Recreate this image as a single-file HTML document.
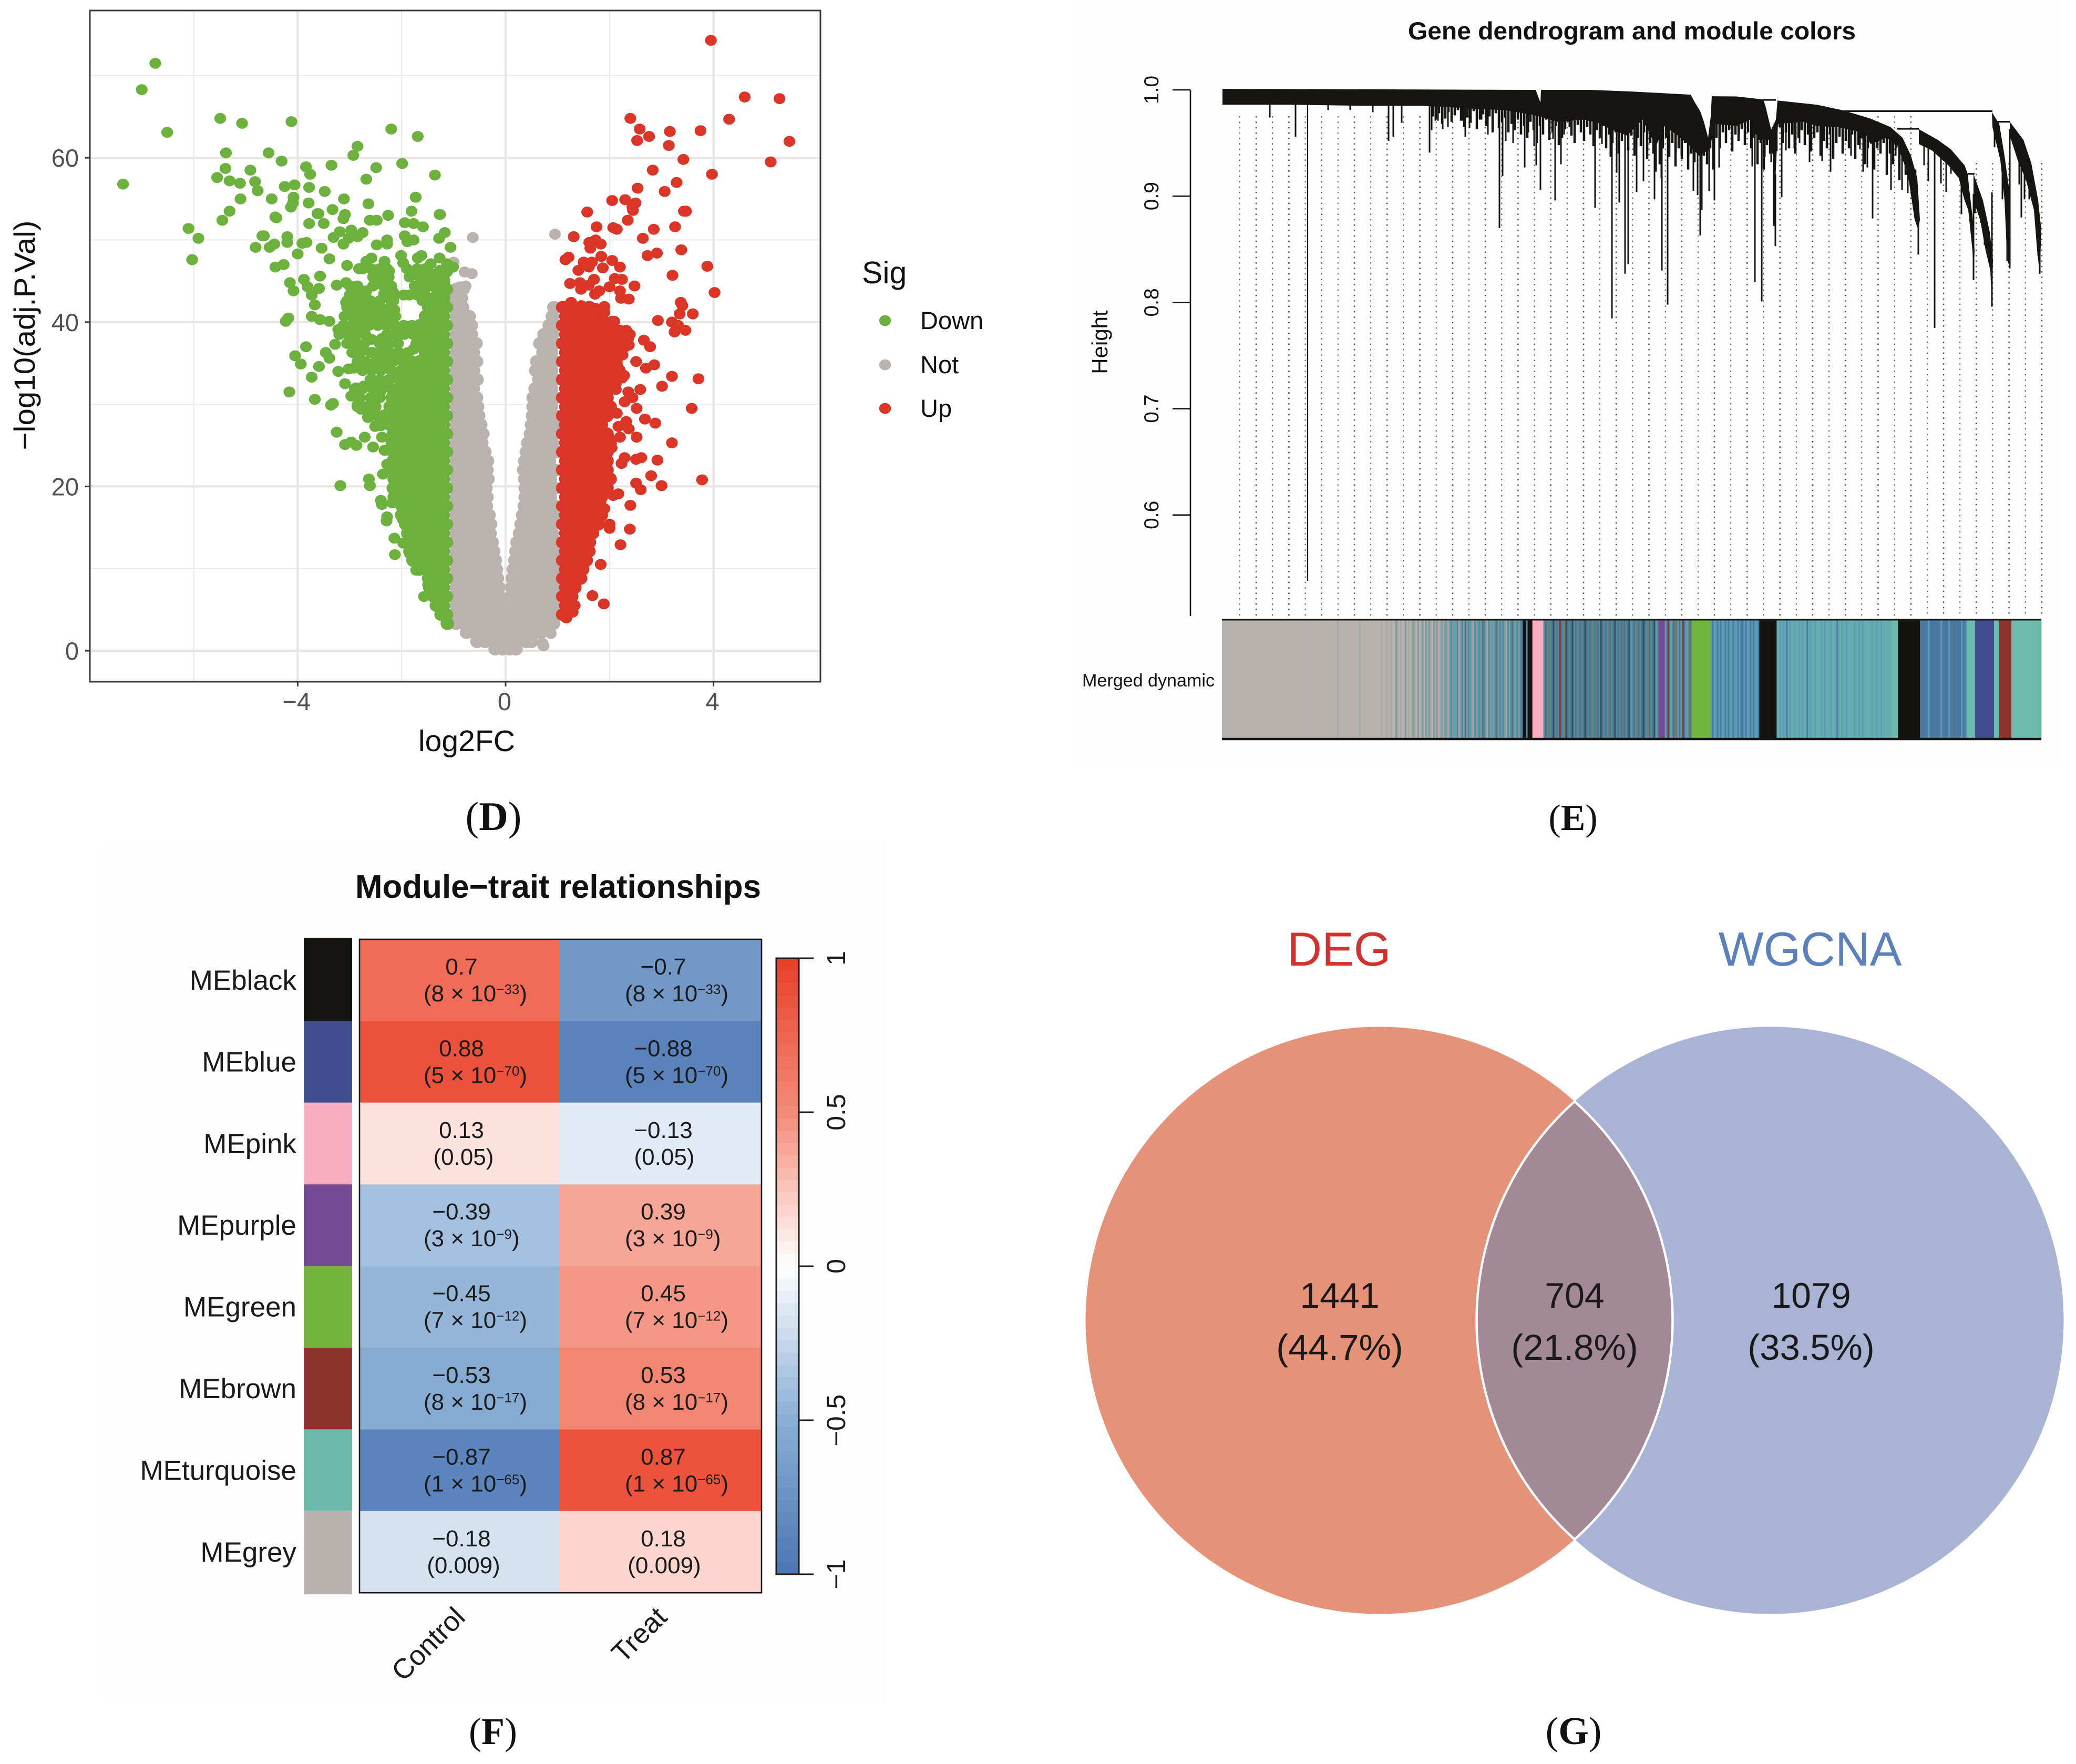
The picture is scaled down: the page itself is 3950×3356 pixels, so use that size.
<!DOCTYPE html>
<html lang="en">
<head>
<meta charset="utf-8">
<title>Volcano plot, gene dendrogram, module-trait heatmap and Venn diagram</title>
<style>
html,body{margin:0;padding:0;background:#fff;}
svg{display:block;}
text{font-family:"Liberation Sans",sans-serif;}
.panel-letter{font-family:"Liberation Serif",serif;font-size:72px;fill:#111;}
</style>
</head>
<body>
<svg id="figure" xmlns="http://www.w3.org/2000/svg" width="3950" height="3356" viewBox="0 0 3950 3356">
  <rect x="0" y="0" width="3950" height="3356" fill="#ffffff"/>
  <rect x="2040" y="0" width="1880" height="1450" fill="#fdfdfd"/>
  <rect x="195" y="1600" width="1490" height="1640" fill="#fdfdfd"/>

  <g id="volcano"></g>
  <text x="888" y="1429" text-anchor="middle" font-size="57" fill="#111" textLength="184" lengthAdjust="spacingAndGlyphs">log2FC</text>
  <text transform="translate(66 638) rotate(-90)" text-anchor="middle" font-size="56" fill="#111" textLength="437" lengthAdjust="spacingAndGlyphs">−log10(adj.P.Val)</text>
  <text x="1640" y="539" font-size="59" fill="#111">Sig</text>
  <text class="panel-letter" x="939" y="1579" text-anchor="middle" style="font-size:77px">(<tspan font-weight="bold">D</tspan>)</text>

  <g id="dendrogram"></g>
  <text x="3105" y="75" text-anchor="middle" font-size="47" font-weight="bold" fill="#111" textLength="852" lengthAdjust="spacingAndGlyphs">Gene dendrogram and module colors</text>
  <text transform="translate(2107 651) rotate(-90)" text-anchor="middle" font-size="42" fill="#111">Height</text>
  <text x="2311" y="1306" text-anchor="end" font-size="34" fill="#111" textLength="252" lengthAdjust="spacingAndGlyphs">Merged dynamic</text>
  <text class="panel-letter" x="2993" y="1579" text-anchor="middle" style="font-size:70px">(<tspan font-weight="bold">E</tspan>)</text>

  <g id="heatmap"></g>
  <text x="1062" y="1708" text-anchor="middle" font-size="62" font-weight="bold" fill="#111" textLength="772" lengthAdjust="spacingAndGlyphs">Module−trait relationships</text>
  <text class="panel-letter" x="938" y="3318" text-anchor="middle">(<tspan font-weight="bold">F</tspan>)</text>

  <g id="venn"></g>
  <text class="panel-letter" x="2994" y="3318" text-anchor="middle" style="font-size:74px">(<tspan font-weight="bold">G</tspan>)</text>
</svg>

<script>
/* ---------- Panel D data: volcano plot ---------- */
const volcanoXTicks = [-4, 0, 4];
const volcanoYTicks = [0, 20, 40, 60];
const volcanoXMinor = [-6, -2, 2];
const volcanoYMinor = [10, 30, 50, 70];
const legendLabels = ['Down', 'Not', 'Up'];

/* scattered points read individually: [log2FC, -log10(adj.P.Val)] */
const downScatter = [[-6.74,71.5],[-7,68.3],[-6.51,63.1],[-7.36,56.8],[-5.49,64.8],[-5.07,64.2],[-4.12,64.4],[-2.2,63.5],[-1.69,62.6],[-2.85,61.4],[-2.93,60.3],[-5.38,60.6],[-4.56,60.6],[-4.31,59.6],[-5.39,58.7],[-4.91,58.5],[-3.84,58.9],[-3.35,59.1],[-1.99,59.3],[-2.49,58.8],[-3.76,58],[-5.55,57.6],[-5.31,57.2],[-5.11,56.9],[-4.82,57.1],[-4.77,56],[-2.68,57.4],[-1.36,57.9],[-4.25,56.5],[-4.06,56.7],[-3.78,56.4],[-3.48,55.9],[-5.1,55],[-4.5,55],[-4.08,55.2],[-4.09,54.5],[-4.13,54],[-3.79,54.5],[-3.11,55],[-1.73,55.2],[-2.64,54.4],[-5.31,53.5],[-3.33,53.7],[-1.81,53.5],[-3.6,53.2],[-3.09,53.1],[-4.41,52.7],[-5.45,52.4],[-1.26,53.1],[-6.1,51.4],[-5.91,50.2],[-6.03,47.6],[-4.68,50.5],[-4.81,49.1],
[-4.43,52.8],[-3.62,53.2],[-3.12,52.6],[-3.78,52],[-3.5,52],[-2.61,52.4],[-2.48,52.4],[-2.26,53],[-1.94,52.1],[-1.77,52],[-1.59,51.6],[-1.27,53.1],[-1.17,50.9],[-1.28,50.2],[-1.06,49.1],[-4.2,50.4],[-4.2,49.7],[-4.65,50.5],[-4.45,49.5],[-4.54,49.1],[-3.91,49.6],[-3.83,49.7],[-4,48.3],[-3.54,49],[-3.39,47.7],[-3.31,50.3],[-3.19,51],[-2.97,51.2],[-3.02,50.2],[-2.85,50.4],[-2.75,50.9],[-3.12,49.5],[-2.48,49.4],[-2.28,50],[-2.28,49.5],[-1.94,50.5],[-1.89,49.8],[-1.77,50],[-2.01,48.1],[-1.97,47.2],[-1.69,47.8],[-1.62,48.1],[-4.43,46.7],[-4.27,47],[-3.05,46.9],[-2.82,46.5],[-2.68,47.4],[-2.58,47.8],[-2.55,46.4],[-2.33,47.4],[-2.24,46.2],[-1.82,46.2],[-1.57,46.4],[-1.44,47.1],[-1.27,47.8],[-1.13,47.1],[-1.01,46.7],[-1.4,45.8],[-1.18,44.8],
[-3.57,45.6],[-3.88,45.2],[-4.15,44.8],[-4.08,43.8],[-3.81,44.3],[-3.59,44.1],[-3.73,43.3],[-3.67,42.1],[-3.25,44.5],[-3.07,44.8],[-2.51,45],[-2.34,44.6],[-2.92,44.3],[-2.68,43.8],[-2.16,43.6],[-2.34,43.4],[-1.96,43.3],[-1.7,44.3],[-2.16,42.6],[-2.14,41.5],[-2.16,40.7],[-3.07,42.4],[-2.95,42.9],[-2.78,42.2],[-2.56,42.4],[-2.98,40.8],[-2.75,41.4],[-2.48,41.4],[-2.31,41.2],[-4.18,40.5],[-4.23,40.1],[-3.73,40.7],[-3.57,40.3],[-3.39,40.1],[-3.22,39.1],[-3.07,38.9],[-2.92,39.8],[-2.88,38.4],[-2.68,39.8],[-2.48,39.8],[-2.28,40.1],[-2.58,37.9],[-2.38,38],[-2.11,38.8],[-1.87,39.5],[-1.81,38.8],[-2.07,37.4],[-2.97,37.6],[-2.78,36.7],[-3.84,37],[-3.28,37.3],[-3.46,36.3],[-3.39,35.6],[-4.05,35.9],[-3.94,34.9],[-3.59,34.6],[-3.73,33.3],[-3.22,34],[-3.02,34.3],[-2.92,34.4],[-2.71,34.9],[-2.65,34.3],[-2.48,34.6],[-2.31,34.6],[-2.55,36.3],[-2.31,36.3],[-2.01,36],[-1.77,36.7],[-1.94,34.3],[-2.08,33.2],[-2.24,32.9],[-2.51,32.9],[-2.51,31.8],[-3.09,32.5],[-4.16,31.5],[-3.67,30.6],[-3.32,30.1],[-3.36,29.9],[-2.97,31],[-2.88,32],[-2.73,32.2],[-2.41,31.5],[-2.18,31],[-2.85,29.9],[-2.78,29.4],[-2.53,29.6],[-2.65,28.4],[-2.51,27.3],[-2.34,28.7],[-3.25,26.6],[-3.09,25.1],[-2.97,25.4],[-2.87,25],[-2.71,26],[-2.55,24.8],[-2.38,26],[-2.33,24.4],[-2.28,22.7],[-2.36,21.5],[-2.11,23.5],[-2.63,20.9],[-2.61,20.1],[-3.18,20.1],[-2.4,18.3],[-2.38,17.8],[-2.18,18],[-2.29,15.8],[-2.28,16.3],[-1.97,15.9],[-1.8,14.5],[-2.14,13.7],[-1.97,13.1],[-2.13,11.7],[-1.84,11.8],[-1.72,9.8],[-1.57,6.6],[-1.49,8]];

const notScatter = [[-0.63,50.3],[0.95,50.7],[-0.79,46.1],[-1,47.3],[-0.85,43.9],[-0.8,40.5],[-0.65,45.9],[-0.77,44.4],[-0.88,44.3],[0.93,41.5],[0.73,0.6],[0.87,2.1],[0.71,0.9]];

const upScatter = [[3.95,74.3],[4.6,67.4],[5.27,67.2],[4.3,64.7],[2.4,64.8],[2.58,63.5],[2.76,62.6],[2.53,62.1],[3.16,63.2],[3.75,63.3],[3.14,61.5],[5.46,62],[3.42,59.8],[5.1,59.5],[2.83,58.5],[3.97,58],[3.29,57],[2.54,56.3],[3.06,55.9],[2.05,54.8],[2.3,54.9],[2.5,54.5],[2.44,54],[1.57,53.4],[3.47,53.5],[2.45,53.6],[3.43,53.5],
[2.35,52.4],[1.75,51.6],[2.07,51.5],[2.14,51.3],[2.85,51.3],[3.26,51.6],[1.31,50.4],[2.64,50.2],[1.73,50],[1.61,49.7],[1.83,49.5],[1.63,49],[3.38,48.8],[2.91,48.4],[2.73,48.1],[1.21,47.9],[1.15,47.6],[1.84,48],[2.05,47.5],[1.5,47.3],[1.66,47.3],[1.6,46.7],[1.4,46.3],[1.87,46.6],[2.2,46.7],[3.88,46.8],[3.21,45.7],[1.24,44.7],[1.43,44.8],[1.45,44],[1.7,45.2],[1.6,44.5],[2.1,45.3],[2.24,45.2],[2,44.3],[1.8,43.8],[1.72,43.4],[2.48,44.4],[2.2,43.8],[2.22,42.9],[2.37,42.8],[4.02,43.6],[3.37,42.4],[3.4,42],[3.35,41],[3.6,41],[2.93,40.2],[3.2,40],[3.32,39.6],[3.25,38.8],[3.46,39],[1.9,41.9],[1.46,42],[1.26,42.4],[1.72,41.7],[2.09,40.1],[2.39,38.5],[2.37,37.2],[2.66,37.8],[2.78,37],[2.2,36],[2.51,35.2],[2.7,34.4],[2.86,34.8],[2.14,34.8],[2.24,33.2],[3.2,33.4],[3.01,32.2],[3.71,33.1],[2.12,31.8],[2.59,31.8],[2.36,31.5],[2.44,30.8],[2.29,30.3],[2.52,29.5],[3.58,29.5],[2.14,28.9],[2.68,28.2],[2.88,27.7],[2.32,27.9],[2.17,27.3],[2.37,27],[2.2,26],[2.52,26],[3.2,25.3],[1.98,26],[2.04,24.7],[2.29,23.5],[2.23,22.8],[2.51,23.3],[2.61,23.5],[2.92,23.2],[2.8,21.3],[3,20.1],[3.78,20.8],[2.51,20.4],[2.6,19.6],[1.98,20.6],[2.17,19.1],[2.07,18.9],[2.4,17.7],[1.82,18],[1.9,17.3],[2.39,14.8],[2,15.4],[2,14.9],[2.21,12.9],[1.83,10.5],[1.67,6.7],[1.89,5.7],[1.33,5.5],[1.29,4.7],[1.17,4]];

/* partly overlapping points, row by row: [-log10P, log2FC, log2FC, ...] */
const downLace = [
[46.5,-2.75,-2.6,-2.42,-2.28,-1.9,-1.7,-1.55],[45.5,-2.55,-2.4,-2.25,-1.85,-1.65,-1.5],[44.4,-3,-2.85,-2.55,-2.35,-2.2,-1.75,-1.6,-1.48],[43.3,-3,-2.85,-2.7,-2.3,-2.15,-1.85,-1.7,-1.55],[42.6,-3.05,-2.9,-2.75,-2.6,-2.42,-2.2,-1.6],
[41.8,-3.05,-2.9,-2.72,-2.55,-2.4,-2.22],[40.7,-3.1,-2.95,-2.8,-2.62,-2.45,-2.28,-2.12],[39.6,-3.12,-2.96,-2.8,-2.63,-2.46,-2.3,-2.13,-1.96,-1.8],[38.5,-3.2,-3.03,-2.86,-2.7,-2.28,-2.12,-1.95,-1.78,-1.62],[37.4,-3.05,-2.88,-2.72,-2.42,-2.25,-2.08,-1.72],[36.3,-2.95,-2.8,-2.6,-2.4,-2.22,-2.05,-1.88],[35.2,-2.85,-2.7,-2.5,-2.33,-2.16,-1.98],[34.1,-2.75,-2.58,-2.4,-2.2,-2.02,-1.85],[33,-2.6,-2.42,-2.25,-2.05,-1.9,-1.75],[31.9,-2.9,-2.75,-2.55,-2.38,-2.2,-2.03],[30.8,-2.8,-2.6,-2.42,-2.2],[29.7,-2.85,-2.68,-2.5],[28.6,-2.6,-2.45],[27.4,-2.5,-2.4]];
const upLace = [
[41.2,1.3,1.5,1.7,1.9],[40.1,1.75,1.9,2.05],[39,1.9,2.05,2.2,2.32],[38,1.95,2.1,2.25,2.36],[37,2,2.15,2.3],[36,1.95,2.1,2.25],[34.6,2,2.15],[33.5,2.05,2.2,2.28],[32.5,2,2.12]];

/* fully overplotted cores, estimated row by row */
const notCore = [
[44,-.95,-.82],[42.9,-.98,-.85],[41.8,-1,-.83,.93],[40.7,-.95,-.78,-.7,.9],[39.6,-.98,-.82,-.66,.84,.98],[38.5,-.95,-.78,-.66,.74,.9],
[37.4,-1,-.84,-.68,-.57,.66,.8,.95],[36.3,-.95,-.78,-.62,.72,.88],[35.2,-1,-.84,-.68,-.56,.6,.76,.93],[34.1,-.95,-.78,-.62,.58,.72,.88],[33,-1,-.84,-.68,-.55,.64,.8,.95],[31.9,-.95,-.78,-.62,.57,.72,.88],
[30.8,-1,-.84,-.68,-.56,.53,.64,.8,.95],[29.7,-.95,-.78,-.62,-.54,.53,.72,.88],[28.6,-1,-.84,-.68,-.52,.52,.64,.8,.95],[27.5,-.95,-.78,-.62,-.48,.5,.66,.82,.95],[26.4,-1,-.84,-.68,-.52,-.44,.48,.6,.76,.92],[25.3,-.95,-.78,-.62,-.46,.43,.58,.74,.9],
[24.2,-1,-.84,-.68,-.52,-.4,.4,.54,.7,.86,.98],[23.1,-.95,-.78,-.62,-.46,-.35,.37,.52,.68,.84],[22,-1,-.84,-.68,-.52,-.36,.35,.48,.64,.8,.95],[20.9,-.95,-.78,-.62,-.46,-.34,.37,.54,.7,.86],[19.8,-1,-.84,-.68,-.52,-.38,.38,.48,.64,.8,.95],[18.7,-.95,-.78,-.62,-.46,-.36,.38,.54,.7,.86],
[17.6,-1,-.84,-.68,-.52,-.37,.36,.48,.64,.8,.95],[16.5,-.95,-.78,-.62,-.46,-.32,.33,.46,.62,.78,.92],[15.4,-1,-.84,-.68,-.52,-.36,-.29,.3,.44,.6,.76,.92],[14.3,-.95,-.78,-.62,-.46,-.3,.27,.42,.58,.74,.9],[13.2,-1,-.84,-.68,-.52,-.36,-.26,.22,.36,.52,.68,.84,.98],[12.1,-.95,-.78,-.62,-.46,-.23,.2,.35,.5,.66,.82,.96],
[11,-1,-.84,-.68,-.52,-.36,-.2,.18,.33,.48,.64,.8,.95],[9.9,-.95,-.78,-.62,-.46,-.3,-.18,.15,.32,.48,.64,.8,.95],[8.8,-1,-.84,-.68,-.52,-.36,-.16,.13,.3,.46,.62,.78,.94],[7.7,-.95,-.78,-.62,-.46,-.3,-.13,.12,.3,.46,.62,.78,.94],[6.6,-1,-.84,-.68,-.52,-.36,-.2,-.12,.1,.28,.44,.6,.76,.92],[5.5,-.95,-.78,-.62,-.46,-.3,-.1,.08,.28,.44,.6,.76,.92],
[4.4,-1,-.84,-.68,-.52,-.36,-.2,-.08,.07,.25,.4,.56,.72,.88,.98],[3.3,-.95,-.8,-.64,-.48,-.32,-.16,-.02,.14,.3,.46,.62,.78,.92],[2.2,-.75,-.6,-.44,-.28,-.12,.04,.2,.36,.52,.68],[1.1,-.55,-.4,-.24,-.08,.08,.24,.4,.5],[.2,-.2,-.06,.08,.2]];

const downCore = [
[3.3,-1.12],[4.4,-1.14,-1.24],[5.5,-1.2,-1.33],[6.6,-1.14,-1.31,-1.38],[7.7,-1.2,-1.37,-1.46],[8.8,-1.14,-1.31,-1.48],[9.9,-1.2,-1.37,-1.54,-1.66],
[11,-1.14,-1.31,-1.48,-1.65,-1.78],[12.1,-1.2,-1.37,-1.54,-1.71,-1.84],[13.2,-1.14,-1.31,-1.48,-1.65,-1.82],[14.3,-1.2,-1.37,-1.54,-1.71,-1.88],[15.4,-1.14,-1.31,-1.48,-1.65,-1.82,-1.92],[16.5,-1.2,-1.37,-1.54,-1.71,-1.88,-2],[17.6,-1.14,-1.31,-1.48,-1.65,-1.82,-1.99],[18.7,-1.2,-1.37,-1.54,-1.71,-1.88,-2.05,-2.14],[19.8,-1.14,-1.31,-1.48,-1.65,-1.82,-1.99,-2.16],
[20.9,-1.2,-1.37,-1.54,-1.71,-1.88,-2.05,-2.14],[22,-1.14,-1.31,-1.48,-1.65,-1.82,-1.99,-2.16],[23.1,-1.2,-1.37,-1.54,-1.71,-1.88,-2.05,-2.16],[24.2,-1.14,-1.31,-1.48,-1.65,-1.82,-1.99,-2.16],[25.3,-1.2,-1.37,-1.54,-1.71,-1.88,-2.05,-2.18],[26.4,-1.14,-1.31,-1.48,-1.65,-1.82,-1.99,-2.16],[27.5,-1.2,-1.37,-1.54,-1.71,-1.88,-2.05,-2.22],[28.6,-1.14,-1.31,-1.48,-1.65,-1.82,-1.99,-2.16,-2.3],[29.7,-1.2,-1.37,-1.54,-1.71,-1.88,-2.05,-2.22],
[30.8,-1.14,-1.31,-1.48,-1.65,-1.82,-1.99],[31.9,-1.2,-1.37,-1.54,-1.71,-1.88,-2.05],[33,-1.14,-1.31,-1.48,-1.65,-1.82],[34.1,-1.2,-1.37,-1.54,-1.71,-1.88],[35.2,-1.14,-1.31,-1.48,-1.65,-1.82],[36.3,-1.2,-1.37,-1.54],[37.4,-1.14,-1.31,-1.48,-1.65],[38.5,-1.2,-1.37,-1.54,-1.71],[39.6,-1.14,-1.31,-1.48,-1.65],[40.7,-1.2,-1.37,-1.54],[41.8,-1.14,-1.31,-1.48],[42.9,-1.2,-1.37,-1.54],[44,-1.14,-1.31],[45.1,-1.2,-1.37],[46.2,-1.14,-1.25]];

const upCore = [
[4.4,1.1],[5.5,1.16,1.26],[6.6,1.1,1.27],[7.7,1.16,1.33],[8.8,1.1,1.27,1.44],[9.9,1.16,1.33,1.48],[11,1.1,1.27,1.44,1.55],[12.1,1.16,1.33,1.5,1.6],[13.2,1.1,1.27,1.44,1.61],[14.3,1.16,1.33,1.5,1.67],[15.4,1.1,1.27,1.44,1.61,1.78],[16.5,1.16,1.33,1.5,1.67,1.84],[17.6,1.1,1.27,1.44,1.61,1.78],[18.7,1.16,1.33,1.5,1.67,1.84],[19.8,1.1,1.27,1.44,1.61,1.78,1.95],
[20.9,1.16,1.33,1.5,1.67,1.84,2.01],[22,1.1,1.27,1.44,1.61,1.78,1.95],[23.1,1.16,1.33,1.5,1.67,1.84,1.95],[24.2,1.1,1.27,1.44,1.61,1.78,1.95],[25.3,1.16,1.33,1.5,1.67,1.84,2.01],[26.4,1.1,1.27,1.44,1.61,1.78,1.95],[27.5,1.16,1.33,1.5,1.67,1.84],[28.6,1.1,1.27,1.44,1.61,1.78,1.95],[29.7,1.16,1.33,1.5,1.67,1.84,2.01],
[30.8,1.1,1.27,1.44,1.61,1.78,1.95],[31.9,1.16,1.33,1.5,1.67,1.84,2.01],[33,1.1,1.27,1.44,1.61,1.78,1.95,2.12],[34.1,1.16,1.33,1.5,1.67,1.84,2.01,2.18],[35.2,1.1,1.27,1.44,1.61,1.78,1.95,2.12],[36.3,1.16,1.33,1.5,1.67,1.84,2.01],[37.4,1.1,1.27,1.44,1.61,1.78,1.95],[38.5,1.16,1.33,1.5,1.67,1.84,2.01],[39.6,1.1,1.27,1.44,1.61,1.78,1.95],[40.7,1.16,1.33,1.5,1.67,1.84],[41.8,1.1,1.27,1.44,1.61]];

/* ---------- Panel E data: dendrogram ([leaf rank, height]) ---------- */
const dendroTicks = [1.0, 0.9, 0.8, 0.7, 0.6];
const guideCount = 50;
const dendroTop = [[0,1.001],[596,1.0],[605,.988],[606,1.0],[700,1.0],[774,.9986],[891,.9955],[899,.988],[909,.98],[916,.97],[924,.955],[929,.975],[931,.994],[978,.9938],[1029,.991],[1033,.985],[1044,.9626],[1053,.972],[1056,.99],[1131,.986],[1182,.9806],[1233,.973],[1271,.965],[1294,.955],[1310,.938],[1322,.917],[1327,.878]];
const dendroLow = [[0,.986],[127,.986],[280,.985],[382,.985],[458,.983],[484,.982],[535,.981],[586,.977],[611,.974],[637,.97],[688,.972],[714,.969],[739,.963],[770,.957],[799,.972],[825,.947],[840,.966],[861,.959],[886,.949],[907,.938],[927,.944],[937,.968],[978,.966],[1004,.972],[1019,.953],[1044,.953],[1052,.915],[1057,.968],[1105,.97],[1131,.966],[1172,.965],[1223,.959],[1233,.949],[1264,.955],[1284,.948],[1304,.921],[1317,.878],[1324,.868]];
const clusterC2 = [[1325,.963],[1361,.953],[1386,.944],[1412,.929],[1418,.921],[1421,.906],[1427,.881],[1431,.849],[1429,.821],[1427,.849],[1419,.887],[1412,.896],[1401,.917],[1381,.929],[1350,.943],[1325,.949]];
const clusterC3 = [[1429,.921],[1447,.896],[1460,.866],[1466,.84],[1464,.796],[1461,.83],[1452,.849],[1442,.877],[1429,.896]];
const clusterC4 = [[1464,.979],[1478,.968],[1488,.938],[1498,.902],[1499,.832],[1493,.84],[1488,.896],[1480,.934],[1465,.965]];
const clusterC5 = [[1498,.97],[1524,.953],[1539,.931],[1552,.896],[1558,.868],[1555,.827],[1550,.849],[1544,.887],[1529,.915],[1513,.934],[1498,.957]];
/* underside of the clusters, where their side branches hang from */
const clusterUnderside = [[1325,.949],[1350,.943],[1381,.929],[1401,.917],[1412,.896],[1429,.896],[1442,.877],[1452,.849],[1463,.83],[1465,.965],[1480,.934],[1488,.896],[1497,.85],[1498,.957],[1513,.934],[1529,.915],[1544,.887],[1555,.849]];
const dendroSpikeLeaf = [90,139,162,201,243,286,316,325,341,394,398,405,410,419,429,457,462,470,493,505,514,527,533,539,553,575,582,597,593,605,633,644,629,640,650,660,709,722,738,741,750,755,766,772,788,801,822,836,847,825,835,863,873,887,896,904,909,912,926,936,945,969,983,1008,1013,1026,1032,1044,1049,1052,1064,1072,1088,1098,1117,1141,1157,1196,1213,1219,1227,1237,1246,1272,1281,1293,1304,1324,1335,1343,1355,1367,1377,1386,1406,1429,1432,1450,1443,1464,1469,1484,1493,1498,1516,1520,1526,1535,1552,1555];
const dendroSpikeLow = [.974,.956,.538,.981,.981,.979,.952,.956,.969,.941,.962,.971,.971,.963,.965,.971,.956,.964,.972,.958,.968,.87,.919,.952,.95,.927,.96,.929,.947,.906,.896,.93,.954,.952,.958,.965,.889,.949,.937,.785,.922,.894,.827,.836,.904,.914,.897,.83,.798,.923,.917,.941,.939,.938,.905,.901,.863,.887,.905,.896,.927,.944,.958,.928,.819,.801,.937,.932,.872,.853,.899,.943,.945,.95,.932,.933,.923,.938,.944,.923,.927,.879,.948,.906,.938,.906,.903,.845,.929,.914,.776,.912,.904,.921,.883,.821,.884,.854,.875,.796,.946,.897,.839,.832,.911,.88,.897,.897,.844,.827];
/* dense short branches below the band, one every 6 leaf ranks from rank 400 */
const dendroCombStart = 400;
const dendroCombStep = 6;
const dendroCombLow = [.975,.972,.978,.968,.973,.979,.97,.976,.981,.971,.965,.974,.969,.98,.963,.972,.977,.966,.975,.96,.978,.964,.97,.974,.96,.968,.962,.972,.958,.966,.955,.97,.962,.95,.966,.958,.972,.953,.96,.966,.948,.955,.963,.97,.957,.95,.967,.96,.952,.965,.958,.947,.962,.955,.966,.945,.958,.95,.96,.94,.952,.962,.943,.957,.938,.955,.947,.96,.935,.95,.94,.958,.93,.945,.955,.937,.95,.928,.945,.935,.95,.925,.94,.932,.948,.92,.938,.93,.945,.925,.955,.945,.96,.95,.962,.942,.958,.952,.963,.948,.96,.945,.955,.93,.95,.925,.948,.94,.955,.958,.965,.95,.96,.945,.958,.94,.955,.962,.948,.958,.942,.955,.96,.938,.952,.945,.958,.935,.95,.956,.94,.952,.945,.958,.935,.948,.955,.93,.945,.952,.925,.945,.94,.95,.92,.94,.93,.945,.915,.935,.92,.93,.91,.925];
const dendroMergeFrom = [1182,1284,1418,1475,1029];
const dendroMergeTo = [1465,1325,1431,1498,1053];
const dendroMergeH = [.98,.9634,.921,.97,.9906];

/* module colour of each leaf column, 520 columns, left to right.
   Lower-case g,t,b,k,p,u,e,n are single modules; l,q,w,r,v,o,s,y,z are columns holding several leaves of mixed modules. */
const moduleColumns = [
'gggggggggggggggggggggggggggggggggggggggggggggggggggggggggg',
'ggggggggggggggglggggggggggggglgggggggggg',
'ggglgglgglggqlglggqglglqlgqglqgqlqlgqlqglqlqql',
'qwqvqwlqwqrqwvqlwqvwqrwqlwqvqwrqwvwqlwqwrqvwqwr',
'kkwkkk',
'ppppppp',
'wrwzwrywrwnrwzyrwrywrwzrwryrwrzwrzrwyrwrwzrwrywrwrzrwryvwrwzrwryrwzrwryvw',
'uuuu',
'vrnvvrzzvrvnrvvzr',
'eeeeeeeeeeee',
'vovvovovvovovvovvovoovovvovovvo',
'kkkkkkkkkkk',
'ssvsvsosvssvssvsvssosvssvsssvsvsssvsssossvssvssssvssvsvsssssvssvssvsssssstttt',
'kkkkkkkkkkkkkk',
'ooroovorooroovoorovooroorovoov',
'ttttt',
'bbbbbbbbbbbb',
'ttt',
'nnnnnnnn',
'ttttttttttttttttttt'
];
const moduleColorKey = {g:'#b8b1ae',t:'#6dbcab',b:'#3f4d8f',k:'#151310',p:'#f8adc0',u:'#744a94',e:'#71b53c',n:'#8c332e',l:'#a3a8a9',q:'#7f9ba2',w:'#568a9b',r:'#477893',v:'#5c9eb1',o:'#4a79a4',s:'#64acb0',y:'#33505e',z:'#6f7a72'};

/* ---------- Panel F data: module-trait heatmap ---------- */
const moduleNames = ['MEblack','MEblue','MEpink','MEpurple','MEgreen','MEbrown','MEturquoise','MEgrey'];
const moduleSwatches = ['#151310','#3f4d8f','#f8adc0','#744a94','#71b53c','#8c332e','#6dbcab','#b8b1ae'];
const traitNames = ['Control','Treat'];
const controlCorr = [0.7,0.88,0.13,-0.39,-0.45,-0.53,-0.87,-0.18];
const treatCorr = [-0.7,-0.88,-0.13,0.39,0.45,0.53,0.87,0.18];
const pMantissa = ['8','5','0.05','3','7','8','1','0.009'];
const pExponent = ['−33','−70','','−9','−12','−17','−65',''];
const scaleTicks = [1,0.5,0,-0.5,-1];
const scaleTickText = ['1','0.5','0','−0.5','−1'];
const scaleStopValues = [-1,-0.5,0,0.5,1];
const scaleStopColors = [[75,118,179],[138,174,213],[255,255,255],[243,139,120],[232,63,40]];

/* ---------- Panel G data: Venn ---------- */
const vennNames = ['DEG','WGCNA'];
const vennCounts = ['1441','704','1079'];
const vennShares = ['(44.7%)','(21.8%)','(33.5%)'];

/* ---------- helpers ---------- */
const NS = 'http://www.w3.org/2000/svg';
function make(parent, tag, attrs, content) {
  const el = document.createElementNS(NS, tag);
  for (const k in attrs) el.setAttribute(k, attrs[k]);
  if (content !== undefined) el.textContent = content;
  parent.appendChild(el);
  return el;
}
function fmt(v){ return String(v).replace('-', '−'); }

/* ---------- Panel D ---------- */
(function () {
  const g = document.getElementById('volcano');
  const xScale = v => 962 + 98.9 * v;
  const yScale = v => 1238 - 15.63 * v;
  const L = 171, R = 1561, T = 20, B = 1297;
  volcanoXMinor.forEach(v => {
    const el = make(g, 'line', {x1:xScale(v), x2:xScale(v), y1:T, y2:B, stroke:'#ece9e8', 'stroke-width':2.2});
    
    
  });
  volcanoYMinor.forEach(v => {
    const el = make(g, 'line', {x1:L, x2:R, y1:yScale(v), y2:yScale(v), stroke:'#ece9e8', 'stroke-width':2.2});
    
    
  });
  volcanoXTicks.forEach(v => {
    const el = make(g, 'line', {x1:xScale(v), x2:xScale(v), y1:T, y2:B, stroke:'#e8e5e3', 'stroke-width':4.2});
    
    
  });
  volcanoYTicks.forEach(v => {
    const el = make(g, 'line', {x1:L, x2:R, y1:yScale(v), y2:yScale(v), stroke:'#e8e5e3', 'stroke-width':4.2});
    
    
  });
  function dot(x, y, fill, name, rx, ry) {
    const el = make(g, 'ellipse', {cx:xScale(x), cy:yScale(y), rx:rx, ry:ry, fill:fill});
    
    
  }
  function drawRows(rows, fill, name, rx, ry) {
    rows.forEach(r => { for (let i = 1; i < r.length; i++) dot(r[i], r[0], fill, name, rx, ry); });
  }
  function drawScatter(points, fill, name) {
    points.forEach(p => dot(p[0], p[1], fill, name, 11.2, 10.4));
  }
  drawScatter(notScatter, '#b9b2af', 'point-not');
  drawRows(notCore, '#b9b2af', 'point-not', 13, 12.2);
  drawRows(downCore, '#6cb13e', 'point-down', 13, 12.2);
  drawRows(downLace, '#6cb13e', 'point-down', 11.2, 10.4);
  drawScatter(downScatter, '#6cb13e', 'point-down');
  drawRows(upCore, '#db3528', 'point-up', 13, 12.2);
  drawRows(upLace, '#db3528', 'point-up', 11.2, 10.4);
  drawScatter(upScatter, '#db3528', 'point-up');

  const frame = make(g, 'rect', {x:L, y:T, width:R-L, height:B-T, fill:'none', stroke:'#3a3a3a', 'stroke-width':3});
  
  
  volcanoXTicks.forEach(v => {
    const t = make(g, 'line', {x1:xScale(v), x2:xScale(v), y1:B, y2:B+9, stroke:'#3a3a3a', 'stroke-width':3});
    
    
    const l = make(g, 'text', {x:xScale(v) - 2, y:1351, 'text-anchor':'middle', 'font-size':47, fill:'#55504e'}, fmt(v));
    
    
  });
  volcanoYTicks.forEach(v => {
    const t = make(g, 'line', {x1:L-9, x2:L, y1:yScale(v), y2:yScale(v), stroke:'#3a3a3a', 'stroke-width':3});
    
    
    const l = make(g, 'text', {x:150, y:yScale(v)+17, 'text-anchor':'end', 'font-size':47, fill:'#55504e'}, fmt(v));
    
    
  });
  const keyColors = ['#6cb13e','#b9b2af','#db3528'];
  const keyY = [610, 694, 777];
  legendLabels.forEach((txt, i) => {
    const k = make(g, 'ellipse', {cx:1684, cy:keyY[i], rx:11.2, ry:10.4, fill:keyColors[i]});
    
    
    const l = make(g, 'text', {x:1751, y:keyY[i]+16, 'font-size':47, fill:'#111'}, txt);
    
    
  });
})();

/* ---------- Panel E ---------- */
(function () {
  const g = document.getElementById('dendrogram');
  const xScale = leaf => 2326 + leaf;
  const yScale = h => 171 + (1 - h) * 2022;
  const pts = a => a.map(p => xScale(p[0]) + ',' + yScale(p[1])).join(' ');
  function interp(table, leaf) {
    for (let i = 0; i < table.length - 1; i++) {
      if (leaf <= table[i + 1][0]) {
        const span = table[i + 1][0] - table[i][0];
        const t = span ? (leaf - table[i][0]) / span : 0;
        return table[i][1] + (table[i + 1][1] - table[i][1]) * t;
      }
    }
    return table[table.length - 1][1];
  }
  const branchStart = leaf => (leaf <= 1324 ? interp(dendroLow, leaf) : interp(clusterUnderside, leaf)) + 0.006;

  for (let i = 0; i < guideCount; i++) {
    const leaf = 33 + i * 31.14;
    const y0 = leaf > 1325 ? 310 : 221;
    const el = make(g, 'line', {x1:xScale(leaf), x2:xScale(leaf), y1:y0, y2:1172, stroke:'#555', 'stroke-width': i % 2 ? 2.6 : 1.9, 'stroke-dasharray':'2.6 7.7'});
    
    
  }
  const mass = make(g, 'polygon', {points: pts(dendroTop.concat(dendroLow.slice().reverse())), fill:'#171512'});
  
  
  [clusterC2, clusterC3, clusterC4, clusterC5].forEach(c => {
    const el = make(g, 'polygon', {points: pts(c), fill:'#171512'});
    
    
  });
  dendroCombLow.forEach((low, i) => {
    const leaf = dendroCombStart + i * dendroCombStep;
    const el = make(g, 'line', {x1:xScale(leaf), x2:xScale(leaf), y1:yScale(branchStart(leaf)), y2:yScale(low), stroke:'#171512', 'stroke-width':4.5});
    
    
  });
  dendroSpikeLeaf.forEach((leaf, i) => {
    const el = make(g, 'line', {x1:xScale(leaf), x2:xScale(leaf), y1:yScale(branchStart(leaf)), y2:yScale(dendroSpikeLow[i]), stroke:'#171512', 'stroke-width': dendroSpikeLow[i] < .6 ? 2.2 : 3});
    
    
  });
  dendroMergeFrom.forEach((leaf, i) => {
    const el = make(g, 'line', {x1:xScale(leaf), x2:xScale(dendroMergeTo[i]), y1:yScale(dendroMergeH[i]), y2:yScale(dendroMergeH[i]), stroke:'#171512', 'stroke-width':3.2});
    
    
  });

  const axis = make(g, 'line', {x1:2265, x2:2265, y1:yScale(1), y2:1172, stroke:'#111', 'stroke-width':2.6});
  
  
  dendroTicks.forEach(v => {
    const t = make(g, 'line', {x1:2231, x2:2265, y1:yScale(v), y2:yScale(v), stroke:'#111', 'stroke-width':2.6});
    
    
    const l = make(g, 'text', {transform:'translate(2204 ' + yScale(v) + ') rotate(-90)', 'text-anchor':'middle', 'font-size':39, fill:'#111'}, v.toFixed(1));
    
    
  });

  const columns = moduleColumns.join('');
  const w = 1559 / columns.length;
  for (let i = 0; i < columns.length; i++) {
    const el = make(g, 'rect', {x:2325 + i * w, y:1179, width:w + 0.4, height:229, fill:moduleColorKey[columns[i]]});
    
    
  }
  const topRule = make(g, 'line', {x1:2325, x2:3884, y1:1179, y2:1179, stroke:'#171512', 'stroke-width':3});
  
  
  const botRule = make(g, 'line', {x1:2325, x2:3884, y1:1406, y2:1406, stroke:'#171512', 'stroke-width':4.5});
  
  
})();

/* ---------- Panel F ---------- */
(function () {
  const g = document.getElementById('heatmap');
  function heatColor(v) {
    let i = 0;
    while (i < scaleStopValues.length - 2 && v > scaleStopValues[i + 1]) i++;
    const t = (v - scaleStopValues[i]) / (scaleStopValues[i + 1] - scaleStopValues[i]);
    const a = scaleStopColors[i], b = scaleStopColors[i + 1];
    return 'rgb(' + [0,1,2].map(k => Math.round(a[k] + (b[k] - a[k]) * t)).join(',') + ')';
  }
  const left = 684, mid = 1063, right = 1449, top = 1787, rowH = 155.4;
  const rowY = i => top + i * rowH;
  moduleNames.forEach((name, i) => {
    const sw = make(g, 'rect', {x:578, y:rowY(i) - (i === 0 ? 3 : 0), width:92, height:rowH + (i === 0 ? 3 : 0) + (i === 7 ? 3 : 0), fill:moduleSwatches[i]});
    
    
    const lab = make(g, 'text', {x:564, y:rowY(i) + 96, 'text-anchor':'end', 'font-size':53, fill:'#1a1a1a'}, name);
    
    
    [controlCorr[i], treatCorr[i]].forEach((v, c) => {
      const x0 = c === 0 ? left : mid, x1 = c === 0 ? mid : right;
      const cell = make(g, 'rect', {x:x0, y:rowY(i), width:x1 - x0, height:rowH, fill:heatColor(v)});
      
      
      const cx = c === 0 ? 878 : 1262;
      const val = make(g, 'text', {x:cx, y:rowY(i) + 67, 'text-anchor':'middle', 'font-size':44, fill:'#1a1a1a'}, fmt(v));
      
      
      let p;
      if (pExponent[i]) {
        p = make(g, 'text', {x:c === 0 ? 806 : 1189, y:rowY(i) + 118, 'font-size':44, fill:'#1a1a1a'});
        make(p, 'tspan', {}, '(' + pMantissa[i] + ' × 10');
        make(p, 'tspan', {'font-size':26, dy:-14}, pExponent[i]);
        make(p, 'tspan', {dy:14}, ')');
      } else {
        p = make(g, 'text', {x:c === 0 ? 882 : 1264, y:rowY(i) + 118, 'text-anchor':'middle', 'font-size':44, fill:'#1a1a1a'}, '(' + pMantissa[i] + ')');
      }
      
      
    });
  });
  const frame = make(g, 'rect', {x:left, y:top, width:right - left, height:rowH * 8, fill:'none', stroke:'#1a1a1a', 'stroke-width':2.6});
  
  

  const traitX = [888, 1272];
  traitNames.forEach((t, i) => {
    const el = make(g, 'text', {transform:'translate(' + traitX[i] + ' 3080) rotate(-45)', 'text-anchor':'end', 'font-size':53, fill:'#1a1a1a'}, t);
    
    
  });

  const barTop = 1823, barBot = 2995, barL = 1477, barR = 1520, steps = 50;
  const barY = v => barTop + (1 - v) / 2 * (barBot - barTop);
  for (let i = 0; i < steps; i++) {
    const hi = 1 - i * 2 / steps, lo = hi - 2 / steps;
    const el = make(g, 'rect', {x:barL, y:barY(hi), width:barR - barL, height:barY(lo) - barY(hi) + 0.5, fill:heatColor((hi + lo) / 2)});
    
    
  }
  const barFrame = make(g, 'rect', {x:barL, y:barTop, width:barR - barL, height:barBot - barTop, fill:'none', stroke:'#1a1a1a', 'stroke-width':3});
  
  
  scaleTicks.forEach((v, i) => {
    const t = make(g, 'line', {x1:barR, x2:1548, y1:barY(v), y2:barY(v), stroke:'#1a1a1a', 'stroke-width':3});
    
    
    const l = make(g, 'text', {transform:'translate(1608 ' + barY(v) + ') rotate(-90)', 'text-anchor':'middle', 'font-size':50, fill:'#1a1a1a'}, scaleTickText[i]);
    
    
  });
})();

/* ---------- Panel G ---------- */
(function () {
  const g = document.getElementById('venn');
  const cy = 2512, r = 558.5, cxL = 2624, cxR = 3368;
  const left = make(g, 'circle', {cx:cxL, cy:cy, r:r, fill:'#e69279'});
  
  
  const right = make(g, 'circle', {cx:cxR, cy:cy, r:r, fill:'#a9b4d5'});
  
  
  const mx = (cxL + cxR) / 2, half = Math.sqrt(r * r - (mx - cxL) * (mx - cxL));
  const lens = make(g, 'path', {d:'M' + mx + ' ' + (cy - half) + 'A' + r + ' ' + r + ' 0 0 1 ' + mx + ' ' + (cy + half) + 'A' + r + ' ' + r + ' 0 0 1 ' + mx + ' ' + (cy - half) + 'Z', fill:'#a38896', stroke:'#fff', 'stroke-width':4.5});
  
  
  const nameX = [2548, 3444], nameColor = ['#d2322d', '#5b80bd'];
  vennNames.forEach((n, i) => {
    const el = make(g, 'text', {x:nameX[i], y:1837, 'text-anchor':'middle', 'font-size':91, fill:nameColor[i]}, n);
    
    
  });
  const countX = [2549, 2996, 3446];
  vennCounts.forEach((c, i) => {
    const a = make(g, 'text', {x:countX[i], y:2488, 'text-anchor':'middle', 'font-size':68, fill:'#1a1a1a'}, c);
    
    
    const b = make(g, 'text', {x:countX[i], y:2587, 'text-anchor':'middle', 'font-size':69, fill:'#1a1a1a'}, vennShares[i]);
    
    
  });
})();
</script>
</body>
</html>
